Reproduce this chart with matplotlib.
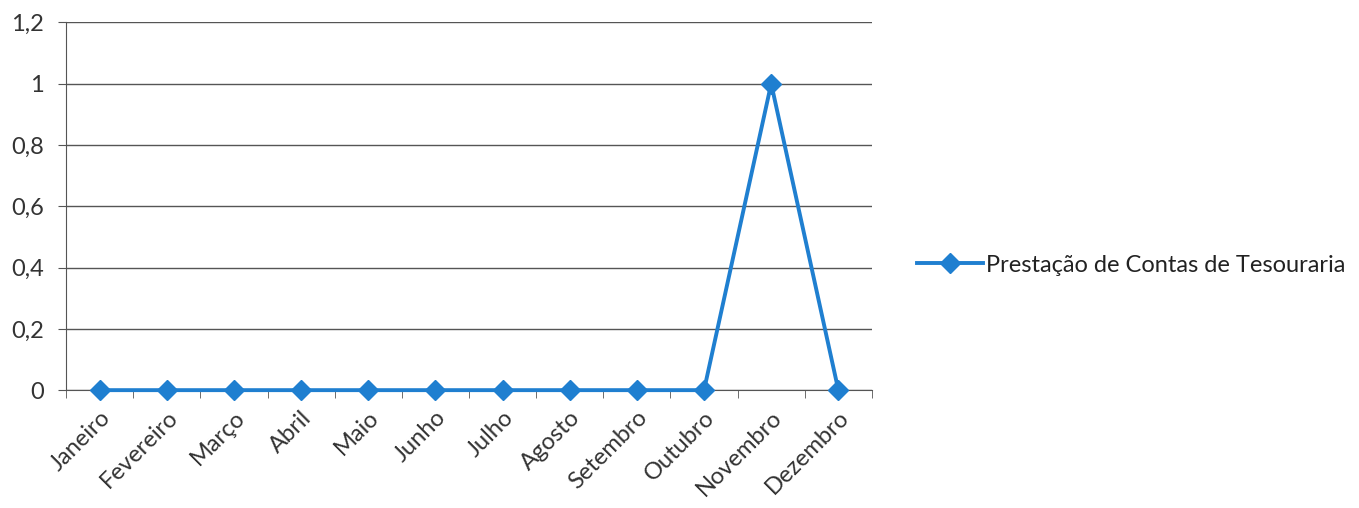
import matplotlib.pyplot as plt
from matplotlib.ticker import FixedLocator

meses = ["Janeiro", "Fevereiro", "Março", "Abril", "Maio", "Junho",
         "Julho", "Agosto", "Setembro", "Outubro", "Novembro", "Dezembro"]
valores = [0, 0, 0, 0, 0, 0, 0, 0, 0, 0, 1, 0]
serie = "Prestação de Contas de Tesouraria"

y_ticks = [0, 0.2, 0.4, 0.6, 0.8, 1.0, 1.2]
y_labels = ["0", "0,2", "0,4", "0,6", "0,8", "1", "1,2"]

plt.rcParams["font.family"] = ["Lato", "DejaVu Sans"]

fig = plt.figure(figsize=(13.59, 5.08), dpi=100)
ax = fig.add_axes([0.0486, 0.232, 0.593, 0.724])

x = list(range(len(meses)))
ax.plot(x, valores, color="#1f7fd0", lw=2.8, marker="D", markersize=10,
        label=serie, zorder=3, clip_on=False)

ax.set_xlim(-0.5, len(meses) - 0.5)
ax.set_ylim(0, 1.2)

ax.set_yticks(y_ticks)
ax.set_yticklabels(y_labels, fontsize=17, color="#333333")
ax.yaxis.grid(True, color="#555555", lw=1)
ax.set_axisbelow(True)

ax.set_xticks(x)
ax.set_xticklabels(meses, rotation=45, ha="right", rotation_mode="anchor",
                   fontsize=17, color="#333333")
ax.tick_params(axis="x", length=0, pad=12)
ax.xaxis.set_minor_locator(FixedLocator([i - 0.5 for i in range(len(meses) + 1)]))
ax.tick_params(axis="x", which="minor", length=6, color="#555555")
ax.tick_params(axis="y", length=6, color="#555555", pad=10)

for s in ["top", "right"]:
    ax.spines[s].set_visible(False)
for s in ["left", "bottom"]:
    ax.spines[s].set_color("#555555")

ax.legend(loc="center left", bbox_to_anchor=(1.03, 0.34), frameon=False,
          fontsize=17, handlelength=2.8, handletextpad=0.1,
          labelcolor="#222222")

fig.savefig("out.png", dpi=100)
